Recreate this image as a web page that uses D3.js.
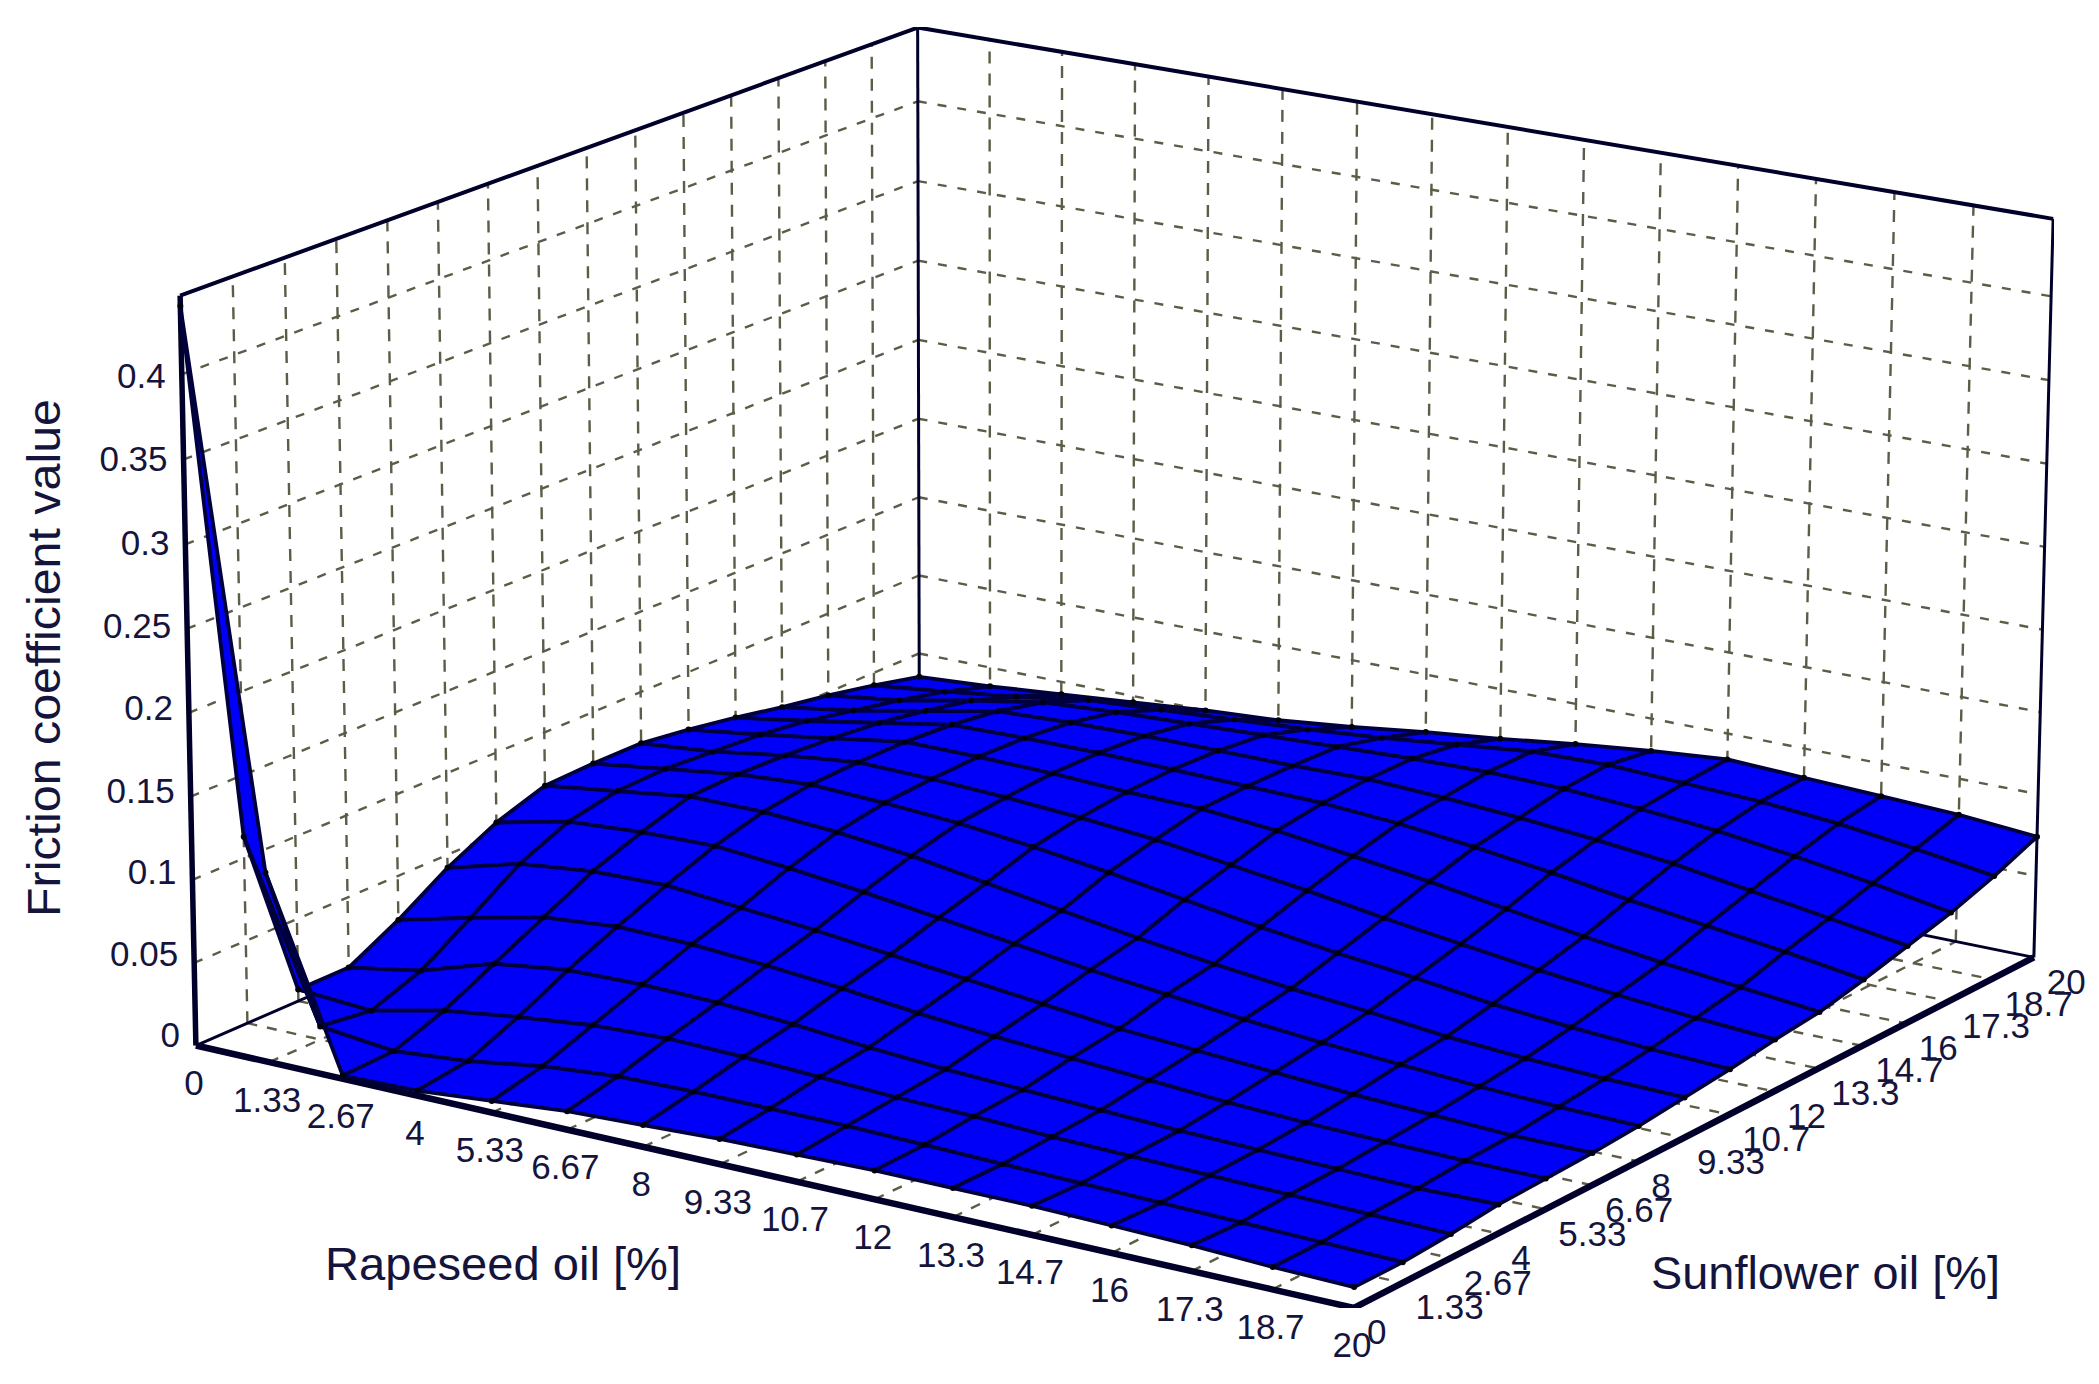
<!DOCTYPE html>
<html>
<head>
<meta charset="utf-8">
<style>
  html, body { margin: 0; padding: 0; background: #fff; }
  text { font-family: "Liberation Sans", Arial, sans-serif; fill: #14143c; }
</style>
<script src="https://cdn.jsdelivr.net/npm/d3@7"></script>
</head>
<body>
<div id="chart"></div>
<script>
const width = 2099;
const height = 1384;

const rapeseedTicks = ["0", "1.33", "2.67", "4", "5.33", "6.67", "8", "9.33", "10.7", "12", "13.3", "14.7", "16", "17.3", "18.7", "20"];
const sunflowerTicks = ["0", "1.33", "2.67", "4", "5.33", "6.67", "8", "9.33", "10.7", "12", "13.3", "14.7", "16", "17.3", "18.7", "20"];
const frictionTicks = [0, 0.05, 0.1, 0.15, 0.2, 0.25, 0.3, 0.35, 0.4];
const frictionMax = 0.446;

// one row per rapeseed tick, one column per sunflower tick
const friction = [
  [0.440, 0.113, 0.007, 0.007, 0.023, 0.042, 0.057, 0.067, 0.068, 0.068, 0.064, 0.059, 0.053, 0.048, 0.042, 0.035],
  [0.114, 0.008, 0.004, 0.015, 0.034, 0.054, 0.067, 0.073, 0.074, 0.072, 0.070, 0.066, 0.060, 0.054, 0.047, 0.038],
  [0.002, 0.003, 0.014, 0.029, 0.044, 0.059, 0.070, 0.079, 0.080, 0.079, 0.077, 0.074, 0.069, 0.063, 0.053, 0.042],
  [0.003, 0.007, 0.020, 0.035, 0.048, 0.060, 0.071, 0.079, 0.083, 0.084, 0.084, 0.082, 0.078, 0.071, 0.060, 0.046],
  [0.007, 0.014, 0.025, 0.036, 0.047, 0.056, 0.067, 0.076, 0.081, 0.083, 0.084, 0.083, 0.080, 0.074, 0.063, 0.050],
  [0.011, 0.018, 0.027, 0.035, 0.044, 0.052, 0.062, 0.071, 0.078, 0.081, 0.083, 0.083, 0.081, 0.076, 0.066, 0.053],
  [0.013, 0.019, 0.026, 0.032, 0.040, 0.047, 0.056, 0.064, 0.073, 0.078, 0.081, 0.082, 0.081, 0.078, 0.069, 0.058],
  [0.015, 0.019, 0.024, 0.028, 0.035, 0.042, 0.050, 0.057, 0.067, 0.074, 0.080, 0.081, 0.081, 0.080, 0.073, 0.064],
  [0.016, 0.019, 0.022, 0.025, 0.031, 0.037, 0.044, 0.050, 0.060, 0.068, 0.076, 0.080, 0.082, 0.082, 0.078, 0.069],
  [0.017, 0.018, 0.021, 0.023, 0.028, 0.032, 0.039, 0.044, 0.053, 0.062, 0.070, 0.077, 0.080, 0.083, 0.083, 0.075],
  [0.017, 0.017, 0.019, 0.021, 0.025, 0.029, 0.034, 0.039, 0.047, 0.055, 0.064, 0.072, 0.077, 0.082, 0.084, 0.080],
  [0.017, 0.016, 0.018, 0.019, 0.022, 0.026, 0.030, 0.035, 0.042, 0.049, 0.057, 0.066, 0.073, 0.079, 0.082, 0.084],
  [0.016, 0.015, 0.017, 0.018, 0.020, 0.023, 0.027, 0.030, 0.036, 0.043, 0.050, 0.059, 0.068, 0.075, 0.080, 0.082],
  [0.015, 0.014, 0.016, 0.017, 0.019, 0.021, 0.024, 0.027, 0.032, 0.038, 0.044, 0.053, 0.061, 0.069, 0.076, 0.080],
  [0.013, 0.013, 0.015, 0.016, 0.018, 0.019, 0.022, 0.025, 0.029, 0.034, 0.039, 0.047, 0.054, 0.062, 0.070, 0.078],
  [0.012, 0.012, 0.014, 0.017, 0.018, 0.019, 0.021, 0.024, 0.027, 0.031, 0.034, 0.040, 0.047, 0.054, 0.063, 0.074]
];

// data -> unit cube
const rScale = d3.scalePoint().domain(rapeseedTicks).range([0, 1]);
const sScale = d3.scalePoint().domain(sunflowerTicks).range([0, 1]);
const zScale = d3.scaleLinear().domain([0, frictionMax]).range([0, 1]);

// Where the corners of the box sit on the page: [u, v, w, x, y]
const boxCorners = [
  [0, 0, 0, 195, 1048],
  [1, 0, 0, 1354, 1306],
  [0, 1, 0, 921, 728],
  [1, 1, 0, 2033, 960],
  [0, 0, 1, 181, 295],
  [0, 1, 1, 916, 29],
  [1, 1, 1, 2054, 218]
];

// Fit a perspective camera to the corners (least squares on the 11 unknowns)
function fitCamera(points) {
  const rows = [];
  const rhs = [];
  points.forEach(([u, v, w, x, y]) => {
    rows.push([u, v, w, 1, 0, 0, 0, 0, -x * u, -x * v, -x * w]);
    rhs.push(x);
    rows.push([0, 0, 0, 0, u, v, w, 1, -y * u, -y * v, -y * w]);
    rhs.push(y);
  });
  const n = 11;
  const A = d3.range(n).map((i) => {
    const line = d3.range(n).map((j) => d3.sum(rows, (r) => r[i] * r[j]));
    line.push(d3.sum(rows, (r, k) => r[i] * rhs[k]));
    return line;
  });
  for (let i = 0; i < n; i++) {
    let pivot = i;
    for (let k = i + 1; k < n; k++) if (Math.abs(A[k][i]) > Math.abs(A[pivot][i])) pivot = k;
    [A[i], A[pivot]] = [A[pivot], A[i]];
    for (let k = 0; k < n; k++) {
      if (k === i) continue;
      const f = A[k][i] / A[i][i];
      for (let j = i; j <= n; j++) A[k][j] -= f * A[i][j];
    }
  }
  return A.map((line, i) => line[n] / line[i]);
}

const cam = fitCamera(boxCorners);

function project(u, v, w) {
  const d = cam[8] * u + cam[9] * v + cam[10] * w + 1;
  return [
    (cam[0] * u + cam[1] * v + cam[2] * w + cam[3]) / d,
    (cam[4] * u + cam[5] * v + cam[6] * w + cam[7]) / d
  ];
}

const line3d = d3.line();

const svg = d3.select("#chart")
  .append("svg")
  .attr("width", width)
  .attr("height", height)
  .attr("viewBox", [0, 0, width, height]);

svg.append("defs").append("filter")
  .attr("id", "soft")
  .attr("x", 0).attr("y", 0).attr("width", 1).attr("height", 1)
  .attr("filterUnits", "objectBoundingBox")
  .append("feGaussianBlur")
  .attr("stdDeviation", 0.7);

const plot = svg.append("g").attr("filter", "url(#soft)");

// Grid on the two walls and the floor
const grid = plot.append("g").attr("fill", "none").attr("stroke", "#5c5c48").attr("stroke-width", 2.4);

function gridLine(a, b, dash) {
  grid.append("path")
    .attr("d", line3d([project(...a), project(...b)]))
    .attr("stroke-dasharray", dash);
}

sunflowerTicks.slice(1, -1).forEach((t) => {
  const v = sScale(t);
  gridLine([0, v, 0], [0, v, 1], "12 10");
});
rapeseedTicks.slice(1, -1).forEach((t) => {
  const u = rScale(t);
  gridLine([u, 1, 0], [u, 1, 1], "12 10");
});
frictionTicks.slice(1).forEach((t) => {
  const w = zScale(t);
  gridLine([0, 0, w], [0, 1, w], "9 11");
  gridLine([0, 1, w], [1, 1, w], "9 11");
});
rapeseedTicks.slice(1, -1).forEach((t) => {
  const u = rScale(t);
  gridLine([u, 0, 0], [u, 1, 0], "10 10");
});
sunflowerTicks.slice(1, -1).forEach((t) => {
  const v = sScale(t);
  gridLine([0, v, 0], [1, v, 0], "10 10");
});

// Box frame
const frame = plot.append("g").attr("fill", "none").attr("stroke", "#05052a").attr("stroke-linejoin", "round");

function frameLine(a, b, w) {
  frame.append("path")
    .attr("d", line3d([project(...a), project(...b)]))
    .attr("stroke-width", w);
}

frameLine([0, 1, 0], [0, 0, 0], 3);
frameLine([0, 1, 0], [1, 1, 0], 3);
frameLine([0, 1, 0], [0, 1, 1], 3);
frameLine([1, 1, 0], [1, 1, 1], 3);
frameLine([0, 0, 0], [0, 0, 1], 5.5);
frameLine([0, 0, 1], [0, 1, 1], 4);
frameLine([0, 1, 1], [1, 1, 1], 4);
frameLine([0, 0, 0], [1, 0, 0], 6.5);
frameLine([1, 0, 0], [1, 1, 0], 6.5);

// Surface, far cells first
const cells = [];
for (let s = sunflowerTicks.length - 2; s >= 0; s--) {
  for (let r = 0; r < rapeseedTicks.length - 1; r++) {
    cells.push([[r, s], [r + 1, s], [r + 1, s + 1], [r, s + 1]]);
  }
}

function surfacePoint([r, s]) {
  return project(rScale(rapeseedTicks[r]), sScale(sunflowerTicks[s]), zScale(friction[r][s]));
}

plot.append("g")
  .selectAll("path")
  .data(cells)
  .join("path")
  .attr("d", (c) => line3d(c.map(surfacePoint)) + "Z")
  .attr("fill", "#0000f8")
  .attr("stroke", "#00003c")
  .attr("stroke-width", 3.8)
  .attr("stroke-linejoin", "round");

// Darker knots where the mesh lines cross
plot.append("g")
  .selectAll("circle")
  .data(d3.cross(d3.range(rapeseedTicks.length), d3.range(sunflowerTicks.length)))
  .join("circle")
  .attr("cx", (d) => surfacePoint(d)[0])
  .attr("cy", (d) => surfacePoint(d)[1])
  .attr("r", 3)
  .attr("fill", "#000010");

// Tick labels
const labels = svg.append("g").attr("font-size", 35);

labels.selectAll("text.rapeseed")
  .data(rapeseedTicks)
  .join("text")
  .attr("class", "rapeseed")
  .attr("text-anchor", "middle")
  .attr("dominant-baseline", "central")
  .attr("x", (t) => project(rScale(t), 0, 0)[0] - 2)
  .attr("y", (t) => project(rScale(t), 0, 0)[1] + 37)
  .text((t) => t);

labels.selectAll("text.sunflower")
  .data(sunflowerTicks)
  .join("text")
  .attr("class", "sunflower")
  .attr("dominant-baseline", "central")
  .attr("x", (t) => project(1, sScale(t), 0)[0] + 13)
  .attr("y", (t) => project(1, sScale(t), 0)[1] + 24)
  .text((t) => t);

labels.selectAll("text.friction")
  .data(frictionTicks)
  .join("text")
  .attr("class", "friction")
  .attr("text-anchor", "end")
  .attr("dominant-baseline", "central")
  .attr("x", (t) => project(0, 0, zScale(t))[0] - 16)
  .attr("y", (t) => project(0, 0, zScale(t))[1] - 11 + 30 * t)
  .text((t) => t);

// Axis titles
svg.append("text")
  .attr("font-size", 47)
  .attr("x", 325)
  .attr("y", 1280)
  .attr("textLength", 356)
  .attr("lengthAdjust", "spacingAndGlyphs")
  .text("Rapeseed oil [%]");

svg.append("text")
  .attr("font-size", 47)
  .attr("x", 1651)
  .attr("y", 1289)
  .attr("textLength", 349)
  .attr("lengthAdjust", "spacingAndGlyphs")
  .text("Sunflower oil [%]");

svg.append("text")
  .attr("font-size", 47)
  .attr("transform", "translate(60,917) rotate(-90)")
  .attr("textLength", 518)
  .attr("lengthAdjust", "spacingAndGlyphs")
  .text("Friction coefficient value");
</script>
</body>
</html>
